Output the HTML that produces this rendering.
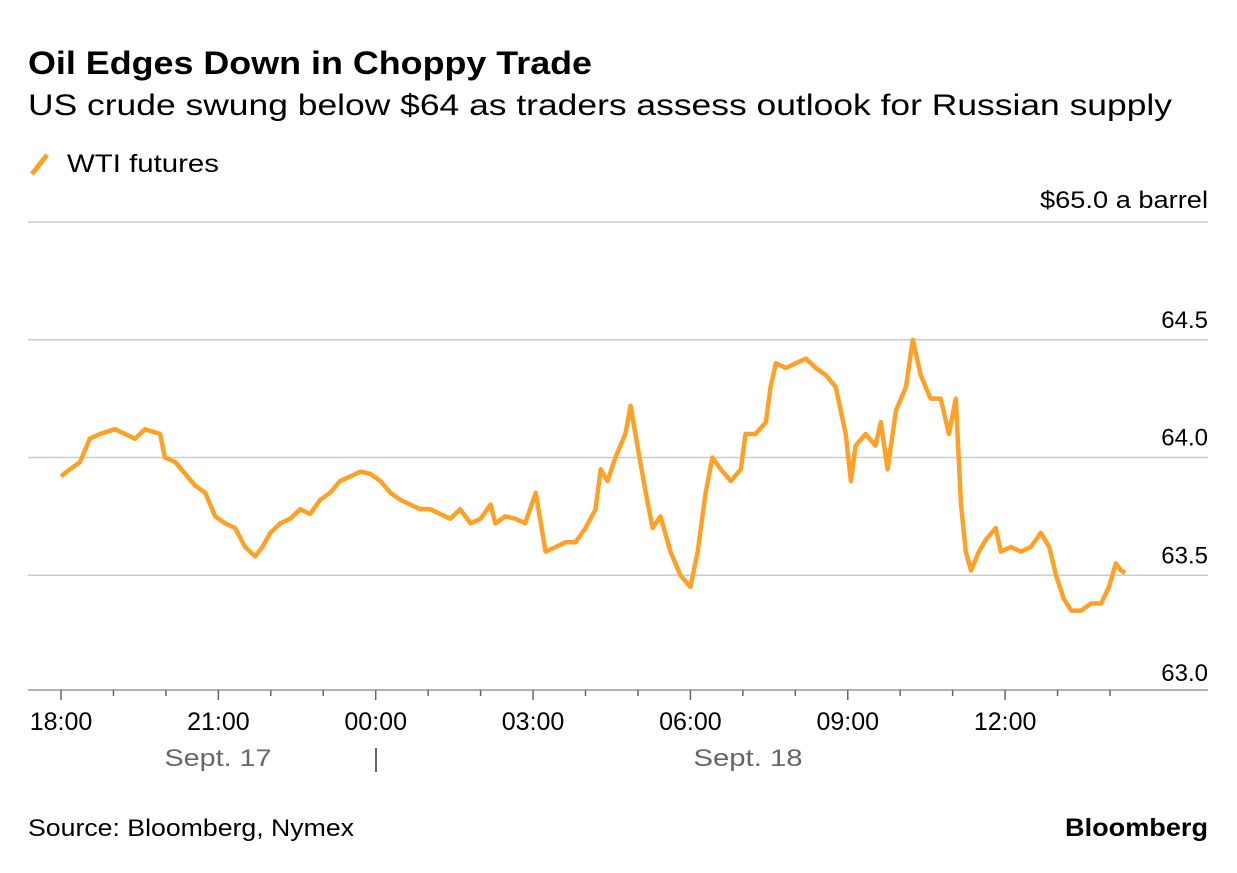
<!DOCTYPE html>
<html><head><meta charset="utf-8"><style>
body{margin:0;background:#fff;width:1237px;height:868px;overflow:hidden;font-family:"Liberation Sans",sans-serif;}
</style></head><body>
<svg width="1237" height="868" font-family="Liberation Sans, sans-serif">
<text x="28" y="74" font-size="32" font-weight="bold" fill="#000" textLength="564" lengthAdjust="spacingAndGlyphs">Oil Edges Down in Choppy Trade</text>
<text x="28" y="115" font-size="30" fill="#000" textLength="1144" lengthAdjust="spacingAndGlyphs">US crude swung below $64 as traders assess outlook for Russian supply</text>
<line x1="32" y1="174" x2="47" y2="155" stroke="#ffa126" stroke-width="5"/>
<text x="67" y="172" font-size="25" fill="#000" textLength="152" lengthAdjust="spacingAndGlyphs">WTI futures</text>
<text x="1208" y="208" font-size="24" text-anchor="end" fill="#000" textLength="168" lengthAdjust="spacingAndGlyphs">$65.0 a barrel</text>
<g id="grid"></g>
<g id="xaxis"></g>
<path id="line" fill="none" stroke="#ffa126" stroke-width="4.5" stroke-linejoin="round"/>
<text x="218" y="766" font-size="24" fill="#666" text-anchor="middle" textLength="107" lengthAdjust="spacingAndGlyphs">Sept. 17</text>
<line x1="376" y1="748" x2="376" y2="772" stroke="#333" stroke-width="1.5"/>
<text x="748" y="766" font-size="24" fill="#666" text-anchor="middle" textLength="109" lengthAdjust="spacingAndGlyphs">Sept. 18</text>
<text x="28" y="836" font-size="24" fill="#000" textLength="326" lengthAdjust="spacingAndGlyphs">Source: Bloomberg, Nymex</text>
<text x="1208" y="836" font-size="25" font-weight="bold" text-anchor="end" fill="#000" textLength="143" lengthAdjust="spacingAndGlyphs">Bloomberg</text>
</svg>
<script>
const yTicks=[65.0,64.5,64.0,63.5,63.0];
const yTickLabels=["","64.5","64.0","63.5","63.0"];
const xTickHours=[0,3,6,9,12,15,18];
const xTickLabels=["18:00","21:00","00:00","03:00","06:00","09:00","12:00"];
const hours=[0,0.17,0.36,0.55,0.74,1.03,1.22,1.41,1.60,1.89,1.98,2.18,2.37,2.56,2.75,2.94,3.13,3.32,3.51,3.70,3.84,3.99,4.18,4.37,4.56,4.75,4.94,5.13,5.32,5.52,5.71,5.90,6.09,6.28,6.47,6.66,6.85,7.04,7.23,7.42,7.61,7.81,8.00,8.19,8.28,8.47,8.66,8.85,9.05,9.24,9.43,9.62,9.81,10.0,10.19,10.29,10.42,10.57,10.76,10.86,10.99,11.15,11.28,11.43,11.62,11.81,12.0,12.14,12.29,12.42,12.58,12.77,12.96,13.05,13.24,13.44,13.53,13.63,13.82,14.01,14.20,14.39,14.58,14.77,14.96,15.06,15.15,15.34,15.53,15.63,15.76,15.92,16.11,16.24,16.39,16.58,16.77,16.93,17.06,17.16,17.25,17.35,17.50,17.63,17.82,17.92,18.11,18.30,18.49,18.68,18.84,18.97,19.12,19.26,19.45,19.64,19.83,19.98,20.11,20.21,20.29];
const prices=[63.92,63.95,63.98,64.08,64.1,64.12,64.1,64.08,64.12,64.1,64.0,63.98,63.93,63.88,63.85,63.75,63.72,63.7,63.62,63.58,63.62,63.68,63.72,63.74,63.78,63.76,63.82,63.85,63.9,63.92,63.94,63.93,63.9,63.85,63.82,63.8,63.78,63.78,63.76,63.74,63.78,63.72,63.74,63.8,63.72,63.75,63.74,63.72,63.85,63.6,63.62,63.64,63.64,63.7,63.78,63.95,63.9,64.0,64.1,64.22,64.05,63.85,63.7,63.75,63.6,63.5,63.45,63.6,63.85,64.0,63.95,63.9,63.95,64.1,64.1,64.15,64.3,64.4,64.38,64.4,64.42,64.38,64.35,64.3,64.1,63.9,64.05,64.1,64.05,64.15,63.95,64.2,64.3,64.5,64.35,64.25,64.25,64.1,64.25,63.8,63.6,63.52,63.6,63.65,63.7,63.6,63.62,63.6,63.62,63.68,63.62,63.5,63.4,63.35,63.35,63.38,63.38,63.45,63.55,63.52,63.51];
const NS="http://www.w3.org/2000/svg";
function xs(h){return 61+h*52.45;}
function ys(p){return 222+(65-p)*235.5;}
const grid=document.getElementById('grid');
yTicks.forEach((v,i)=>{
  if(v>63.0){const l=document.createElementNS(NS,'line');
  l.setAttribute('x1',28);l.setAttribute('x2',1208);l.setAttribute('y1',ys(v));l.setAttribute('y2',ys(v));
  l.setAttribute('stroke','#ccc');l.setAttribute('stroke-width','1.5');
  
  
  grid.appendChild(l);}
  if(yTickLabels[i]){const t=document.createElementNS(NS,'text');
  t.setAttribute('x',1208);t.setAttribute('y',ys(v)-12);t.setAttribute('text-anchor','end');t.setAttribute('font-size','24');
  t.textContent=yTickLabels[i];
  
  
  grid.appendChild(t);}
});
const xa=document.getElementById('xaxis');
const base=690;
const bl=document.createElementNS(NS,'line');
bl.setAttribute('x1',28);bl.setAttribute('x2',1208);bl.setAttribute('y1',base);bl.setAttribute('y2',base);bl.setAttribute('stroke','#999');bl.setAttribute('stroke-width','1.5');


xa.appendChild(bl);
for(let h=0;h<=20;h++){const l=document.createElementNS(NS,'line');
  l.setAttribute('x1',xs(h));l.setAttribute('x2',xs(h));l.setAttribute('y1',base);l.setAttribute('y2',base+(h%3===0?10:6));
  l.setAttribute('stroke','#666');l.setAttribute('stroke-width','1.5');
  
  
  xa.appendChild(l);}
xTickHours.forEach((h,i)=>{const t=document.createElementNS(NS,'text');
  t.setAttribute('x',xs(h));t.setAttribute('y',730);t.setAttribute('text-anchor','middle');t.setAttribute('font-size','25');
  t.textContent=xTickLabels[i];
  
  
  xa.appendChild(t);});
document.getElementById('line').setAttribute('d',hours.map((h,i)=>(i?'L':'M')+xs(h).toFixed(1)+','+ys(prices[i]).toFixed(1)).join(''));
</script>
</body></html>
